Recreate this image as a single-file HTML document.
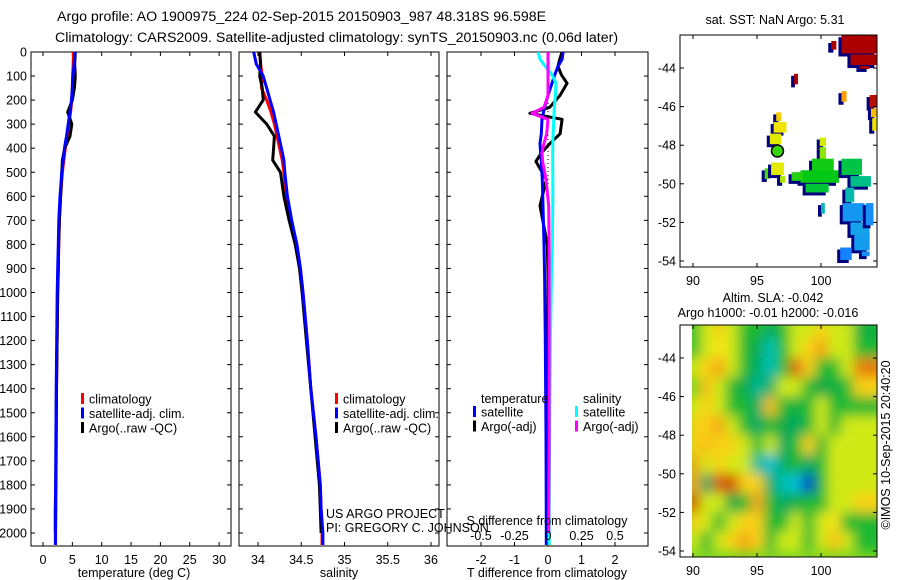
<!DOCTYPE html>
<html><head><meta charset="utf-8"><style>
body{margin:0;background:#fff;width:900px;height:580px;overflow:hidden}
svg{display:block;font-family:"Liberation Sans",sans-serif;font-size:12.5px}
</style></head><body>
<svg id="fig" width="900" height="580" viewBox="0 0 900 580">
<defs>
<filter id="blur" filterUnits="userSpaceOnUse" x="660" y="300" width="240" height="280"><feGaussianBlur stdDeviation="6"/></filter>
<clipPath id="clipP1"><rect x="31" y="52" width="200" height="494"/></clipPath>
<clipPath id="clipP2"><rect x="239" y="52" width="200" height="494"/></clipPath>
<clipPath id="clipP3"><rect x="447" y="52" width="201" height="494"/></clipPath>
<clipPath id="clipM1"><rect x="680" y="35" width="197" height="232"/></clipPath>
<clipPath id="clipM2"><rect x="692" y="325" width="185" height="232"/></clipPath>
</defs>
<text x="57" y="21" style="font-size:14.2px">Argo profile: AO 1900975_224 02-Sep-2015 20150903_987 48.318S 96.598E</text>
<text x="55" y="42" style="font-size:14.2px">Climatology: CARS2009. Satellite-adjusted climatology: synTS_20150903.nc (0.06d later)</text>
</svg>
<script>
// ---------- data ----------
const depths = [0,50,100,150,200,250,300,350,400,450,500,600,700,800,900,1000,1200,1400,1600,1800,1900,2000,2050];
const tempClim = [5.2,5.15,5.05,5.0,4.9,4.7,4.4,4.1,3.8,3.55,3.3,3.0,2.8,2.7,2.6,2.5,2.4,2.3,2.25,2.2,2.2,2.15,2.15];
const tempSat  = [5.45,5.3,5.1,5.0,4.85,4.6,4.3,4.0,3.65,3.45,3.2,2.9,2.7,2.6,2.5,2.42,2.33,2.25,2.2,2.15,2.12,2.12,2.12];
const tempArgo = [5.5,5.4,5.5,5.35,5.0,4.2,4.9,4.6,3.7,3.3,3.2,3.0,2.8,2.65,2.6,2.5,2.4,2.3,2.25,2.2,2.1,2.1];
const salClim = [34.02,34.03,34.05,34.04,34.10,34.15,34.19,34.22,34.25,34.28,34.30,34.33,34.38,34.45,34.49,34.52,34.57,34.61,34.67,34.72,34.73,34.74,34.74];
const salSat  = [33.95,33.98,34.06,34.10,34.14,34.18,34.21,34.24,34.27,34.30,34.31,34.34,34.39,34.45,34.49,34.52,34.57,34.61,34.67,34.72,34.73,34.75,34.75];
const salArgo = [34.02,34.03,34.02,34.05,34.06,33.97,34.10,34.19,34.18,34.17,34.26,34.30,34.36,34.43,34.48,34.51,34.56,34.61,34.66,34.71,34.72,34.73];
const diffDepths = [0,30,60,95,130,180,230,255,280,340,380,420,455,530,640,800,930,1200,1600,2000,2050];
const tDiffSat  = [0.45,0.42,0.3,0.2,0.12,0,-0.1,-0.14,-0.18,-0.2,-0.24,-0.22,-0.2,-0.17,-0.15,-0.12,-0.1,-0.08,-0.06,-0.05,-0.05];
const tDiffArgo = [0.42,0.35,0.3,0.4,0.57,0.36,0.05,-0.54,0.42,0.36,0.06,-0.2,-0.36,-0.05,-0.24,-0.02,0,0,0,0];
const sDiffSat  = [-0.075,-0.06,-0.02,0.03,0.06,0.055,0.048,0.045,0.043,0.038,0.036,0.035,0.035,0.036,0.036,0.033,0.025,0.018,0.012,0.008,0.008];
const sDiffArgo = [0,0,0,0,0,0,-0.03,-0.12,0,-0.01,-0.03,-0.045,-0.04,-0.015,0.005,0.008,0.008,0.008,0.008,0.005];
const depthTicks = [0,100,200,300,400,500,600,700,800,900,1000,1100,1200,1300,1400,1500,1600,1700,1800,1900,2000];
const tempTicks = [0,5,10,15,20,25,30];
const salTicks = [34,34.5,35,35.5,36];
const tDiffTicks = [-2,-1,0,1,2];
const sDiffTicks = [-0.5,-0.25,0,0.25,0.5];
const lonTicks = [90,95,100];
const latTicks = [-44,-46,-48,-50,-52,-54];
// SST patches: [lon0, lat0(top), lon1, lat1(bottom), sst]
const sstPatches = [[101.6,-42.3,104.4,-43.3,9],[102.3,-43.3,104.4,-43.9,9],[103.0,-43.9,103.8,-44.1,9],[100.8,-42.6,101.2,-43.1,9],[97.9,-44.3,98.2,-44.9,9],[101.6,-45.2,102.0,-45.8,7.6],[103.8,-45.4,104.4,-46.1,8.8],[103.9,-46.1,104.4,-46.6,7.2],[104.0,-46.6,104.4,-47.3,6.6],[96.5,-46.3,96.9,-46.8,7],[96.3,-46.8,97.3,-47.4,6.6],[96.0,-47.4,96.9,-48.0,6.4],[99.9,-47.6,100.4,-48.1,6.3],[99.9,-48.1,100.4,-48.8,5.8],[99.3,-48.7,101.0,-49.4,5.1],[98.4,-49.3,101.4,-50.0,5.0],[98.8,-50.0,100.6,-50.5,4.8],[101.6,-48.7,103.2,-49.6,4.7],[102.3,-49.6,103.9,-50.2,4.3],[101.9,-50.2,102.6,-51.0,4.0],[97.7,-49.4,98.6,-49.9,5.2],[95.6,-49.2,96.0,-49.8,5.4],[96.1,-48.9,97.1,-49.6,6.4],[96.8,-49.6,97.2,-50.0,6.0],[101.7,-51.0,103.4,-52.0,3.2],[102.3,-52.0,103.8,-52.7,3.4],[103.5,-51.0,104.1,-52.2,3.1],[102.6,-52.6,103.8,-53.5,3.3],[103.2,-53.5,103.8,-53.8,3.1],[100.0,-51.0,100.3,-51.6,3.9],[101.5,-53.3,102.4,-54.0,2.9]];
const floatLon = 96.6, floatLat = -48.3, floatSST = 5.31;
// SLA grid: rows lat -42.5..-54 by 1, cols lon 90.5..103.5 by 1
const slaLats = [-42.5,-43.5,-44.5,-45.5,-46.5,-47.5,-48.5,-49.5,-50.5,-51.5,-52.5,-53.5,-54.5];
const slaLons = [90.5,91.5,92.5,93.5,94.5,95.5,96.5,97.5,98.5,99.5,100.5,101.5,102.5,103.5];
const slaVals = [
[0,0.05,0.1,0.05,0,0,-0.05,0,0.05,0.05,0.1,0.05,0.05,-0.02],
[0,0.05,0.08,0.05,0,-0.03,-0.1,0,0.05,0.1,0.15,0.05,0.05,0],
[0.05,0.1,0.15,0.05,0,-0.05,-0.1,0,0.2,0.1,0,0,0.05,0.18],
[0.02,0.12,0.05,0,-0.03,-0.08,-0.05,0.05,0.05,0,-0.03,-0.02,0,0.1],
[0.05,0.1,0.05,0,0,-0.05,0.12,0,-0.02,0,0.05,0,0,0],
[0.1,0.1,0.15,0.05,0,-0.05,0,-0.03,-0.05,0,0.05,0,0.05,0.05],
[0.1,0.12,0.1,0.1,0.05,0,0.05,-0.05,0,0.1,0,0.05,0.05,0.05],
[0.15,0.05,0.1,0.05,0.05,-0.08,-0.12,-0.05,0,-0.05,0,0.05,0.05,0.05],
[0.15,-0.05,0.2,0.22,0.1,0.1,-0.05,-0.1,-0.12,-0.28,0,0.05,0.05,0.05],
[0.22,0.05,0.05,-0.03,0,0.15,0,-0.05,-0.02,0,0,0.05,0.05,0.1],
[0.1,0.05,0,0.05,0.1,0.1,0,0,0.05,0,0.05,0.08,0,0],
[0.05,0,0.05,0.1,0.15,0.1,0,0.05,0.05,0,0.05,0.12,0.05,0]];
// ---------- helpers ----------
const NS='http://www.w3.org/2000/svg';
const fig=document.getElementById('fig');
function mk(tag,attrs,parent){const e=document.createElementNS(NS,tag);for(const k in attrs)e.setAttribute(k,attrs[k]);(parent||fig).appendChild(e);return e;}
function txt(x,y,s,anchor,name,extra){const e=mk('text',Object.assign({x:x,y:y,'text-anchor':anchor||'start'},extra||{}));e.textContent=s;


return e;}
const yD=d=>52+d*0.2405;
function box(x,y,w,h,name){const e=mk('rect',{x:x,y:y,width:w,height:h,fill:'none',stroke:'#000','stroke-width':1});

}
function profile(xs,vals,ds,fx,color,clip,name,w){const pts=[];for(let i=0;i<vals.length;i++){if(vals[i]==null)continue;pts.push(fx(vals[i]).toFixed(1)+','+yD(ds[i]).toFixed(1));}
const e=mk('polyline',{points:pts.join(' '),fill:'none',stroke:color,'stroke-width':w||3,'clip-path':'url(#'+clip+')','stroke-linejoin':'round'});

}
function depthAxis(x0,x1,labels){depthTicks.forEach(d=>{const y=yD(d);mk('line',{x1:x0,y1:y,x2:x0+4,y2:y,stroke:'#000'});mk('line',{x1:x1-4,y1:y,x2:x1,y2:y,stroke:'#000'});if(labels)txt(x0-4,y+4.5,String(d),'end','depth-tick-label');});}
function xAxis(ticks,fx,x0,x1,fmt,nm){ticks.forEach(t=>{const x=fx(t);mk('line',{x1:x,y1:546,x2:x,y2:542,stroke:'#000'});mk('line',{x1:x,y1:52,x2:x,y2:56,stroke:'#000'});txt(x,564,fmt(t),'middle',nm);});}
function legend(x,y,items,nm){items.forEach((it,i)=>{mk('rect',{x:x-2,y:y+i*14.5-6,width:3,height:11,fill:it[0]});txt(x+6,y+i*14.5+4.5,it[1],'start',nm);});}
// ---------- panel 1: temperature ----------
const fT=t=>43+t*5.87;
box(31,52,200,494,'temperature-axes');
depthAxis(31,231,true);
xAxis(tempTicks,fT,31,231,t=>String(t),'temperature-tick-label');
txt(134,577,'temperature (deg C)','middle','temperature-axis-title');
profile(0,tempClim,depths,fT,'#f00','clipP1','temperature-climatology-line');
profile(0,tempArgo,depths,fT,'#000','clipP1','temperature-argo-line');
profile(0,tempSat,depths,fT,'#00f','clipP1','temperature-satellite-line');
legend(83,399,[['#f00','climatology'],['#00f','satellite-adj. clim.'],['#000','Argo(..raw -QC)']],'temperature-legend-entry');
// ---------- panel 2: salinity ----------
const fS=s=>258+(s-34)*86.5;
box(239,52,200,494,'salinity-axes');
depthAxis(239,439,false);
xAxis(salTicks,fS,239,439,t=>String(t),'salinity-tick-label');
txt(339,577,'salinity','middle','salinity-axis-title');
profile(0,salClim,depths,fS,'#f00','clipP2','salinity-climatology-line');
profile(0,salArgo,depths,fS,'#000','clipP2','salinity-argo-line');
profile(0,salSat,depths,fS,'#00f','clipP2','salinity-satellite-line');
legend(337,399,[['#f00','climatology'],['#00f','satellite-adj. clim.'],['#000','Argo(..raw -QC)']],'salinity-legend-entry');
txt(326,518,'US ARGO PROJECT','start','project-credit');
txt(326,532,'PI: GREGORY C. JOHNSON','start','pi-credit');
// ---------- panel 3: differences ----------
const fTd=t=>548+t*33.5, fSd=s=>548+s*134;
box(447,52,201,494,'difference-axes');
depthAxis(447,648,false);
xAxis(tDiffTicks,fTd,447,648,t=>String(t),'t-difference-tick-label');
txt(547,577,'T difference from climatology','middle','t-difference-axis-title');
mk('line',{x1:548,y1:55,x2:548,y2:300,stroke:'#000','stroke-dasharray':'1,3'});
profile(0,tDiffArgo,diffDepths,fTd,'#000','clipP3','t-difference-argo-line');
profile(0,tDiffSat,diffDepths,fTd,'#00f','clipP3','t-difference-satellite-line');
profile(0,sDiffSat,diffDepths,fSd,'#0ff','clipP3','s-difference-satellite-line');
profile(0,sDiffArgo,diffDepths,fSd,'#f0f','clipP3','s-difference-argo-line');
txt(481,403,'temperature','start','difference-legend-header-temperature');
txt(583,403,'salinity','start','difference-legend-header-salinity');
legend(475,412,[['#00f','satellite'],['#000','Argo(-adj)']],'difference-legend-entry');
legend(577,412,[['#0ff','satellite'],['#f0f','Argo(-adj)']],'difference-legend-entry');
txt(547,525,'S difference from climatology','middle','s-difference-axis-title');
sDiffTicks.forEach(s=>{txt(fSd(s),540,String(s),'middle','s-difference-tick-label');});
// ---------- map 1: SST ----------
const mx=lon=>693+(lon-90)*12.8, my1=lat=>68+(-44-lat)*19.3, my2=lat=>358+(-44-lat)*19.3;
function interp(stops,v){if(v<=stops[0][0])return 'rgb('+stops[0][1]+')';for(let i=1;i<stops.length;i++){if(v<=stops[i][0]){const a=stops[i-1],b=stops[i],f=(v-a[0])/(b[0]-a[0]);return 'rgb('+a[1].map((c,k)=>Math.round(c+(b[1][k]-c)*f)).join(',')+')';}}return 'rgb('+stops[stops.length-1][1]+')';}
const sstStops=[[2.9,[20,130,255]],[3.5,[20,170,230]],[4.2,[0,190,150]],[5.0,[0,200,20]],[5.8,[140,230,0]],[6.5,[240,235,0]],[7.6,[255,160,0]],[8.5,[210,30,0]],[9,[170,0,0]]];
const sstCol=t=>interp(sstStops,t);
txt(775,24,'sat. SST: NaN Argo: '+floatSST,'middle','sst-map-title');
const g1=mk('g',{'clip-path':'url(#clipM1)'});


sstPatches.forEach(p=>{const x0=mx(p[0]),x1=mx(p[2]),y0=my1(p[1]),y1=my1(p[3]);
mk('rect',{x:x0-3,y:y0+2,width:x1-x0,height:y1-y0,fill:'#00007f'},g1);
const r=mk('rect',{x:x0,y:y0,width:x1-x0,height:y1-y0-1,fill:sstCol(p[4])},g1);

});
const fc=mk('circle',{cx:mx(floatLon),cy:my1(floatLat),r:6,fill:sstCol(floatSST),stroke:'#000','stroke-width':1.5});


box(680,35,197,232,'sst-map-axes');
function mapAxes(my,yTop,yBot,nm){lonTicks.forEach(l=>{const x=mx(l);mk('line',{x1:x,y1:yBot,x2:x,y2:yBot-4,stroke:'#000'});mk('line',{x1:x,y1:yTop,x2:x,y2:yTop+4,stroke:'#000'});txt(x,yBot+18,String(l),'middle',nm+'-lon-tick-label');});
latTicks.forEach(l=>{const y=my(l);mk('line',{x1:680,y1:y,x2:684,y2:y,stroke:'#000'});mk('line',{x1:873,y1:y,x2:877,y2:y,stroke:'#000'});txt(676,y+4.5,String(l),'end',nm+'-lat-tick-label');});}
mapAxes(my1,35,267,'sst-map');
// ---------- map 2: SLA ----------
const slaStops=[[-0.3,[0,40,200]],[-0.15,[0,200,210]],[-0.05,[0,165,80]],[0,[30,185,50]],[0.05,[190,235,20]],[0.1,[250,232,20]],[0.2,[245,160,20]],[0.3,[200,60,0]]];
const slaCol=v=>interp(slaStops,v);
txt(773,302,'Altim. SLA: -0.042','middle','sla-map-title');
txt(768,317,'Argo h1000: -0.01 h2000: -0.016','middle','sla-map-subtitle');
const g2c=mk('g',{'clip-path':'url(#clipM2)'});
mk('rect',{x:692,y:325,width:185,height:232,fill:slaCol(0.03)},g2c);
const g2=mk('g',{filter:'url(#blur)'},g2c);


slaVals.forEach((row,i)=>row.forEach((v,j)=>{const r=mk('rect',{x:mx(slaLons[j]-0.5)-6,y:my2(slaLats[i]+0.5),width:12.9+(j==0?6:0)+(j==slaLons.length-1?20:0),height:19.4,fill:slaCol(v*1.3)},g2);

}));
box(680,325,197,232,'sla-map-axes');
mapAxes(my2,325,557,'sla-map');
txt(0,0,'©IMOS 10-Sep-2015 20:40:20','middle','imos-timestamp',{transform:'translate(890,445) rotate(-90)'});
</script>
</body></html>
